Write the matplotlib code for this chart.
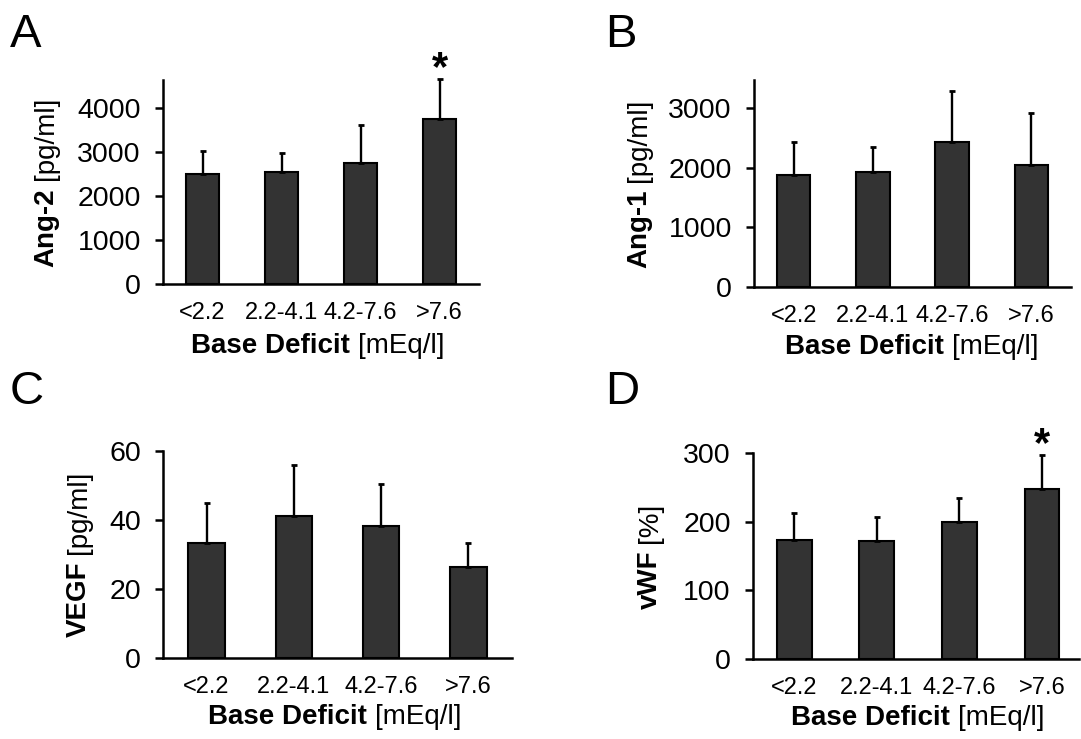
import numpy as np
import matplotlib
matplotlib.use("Agg")
import matplotlib.pyplot as plt

plt.rcParams['font.family'] = ['Liberation Sans', 'DejaVu Sans']

categories = ["<2.2", "2.2-4.1", "4.2-7.6", ">7.6"]

ang2_mean = [2490, 2550, 2760, 3760]
ang2_err = [540, 435, 850, 890]

ang1_mean = [1880, 1930, 2430, 2050]
ang1_err = [550, 420, 860, 870]

vegf_mean = [33.4, 41.3, 38.3, 26.3]
vegf_err = [11.6, 14.7, 12.0, 7.0]

vwf_mean = [173, 172, 199, 247]
vwf_err = [39, 35, 36, 50]

W, H = 1081, 739
fig = plt.figure(figsize=(W / 100, H / 100), dpi=100)


def px_rect(left, right, top, bottom):
    return [left / W, 1 - bottom / H, (right - left) / W, (bottom - top) / H]


def fx(x):
    return x / W


def fy(y):
    return 1 - y / H


renderer = fig.canvas.get_renderer()


def text_width(s, size, weight):
    t = fig.text(0, 0, s, fontsize=size, fontweight=weight)
    w = t.get_window_extent(renderer).width
    t.remove()
    return w


def mixed_label(bold, regular, xc, yc, size, vertical):
    w1 = text_width(bold, size, 'bold')
    w2 = text_width(regular, size, 'normal')
    gap = 0.28 * size * 100 / 72
    total = w1 + gap + w2
    if vertical:
        y0 = yc + total / 2
        fig.text(fx(xc), fy(y0), bold, fontsize=size, fontweight='bold',
                 rotation=90, rotation_mode='anchor', ha='left', va='center')
        fig.text(fx(xc), fy(y0 - w1 - gap), regular, fontsize=size,
                 rotation=90, rotation_mode='anchor', ha='left', va='center')
    else:
        x0 = xc - total / 2
        fig.text(fx(x0), fy(yc), bold, fontsize=size, fontweight='bold',
                 ha='left', va='center')
        fig.text(fx(x0 + w1 + gap), fy(yc), regular, fontsize=size,
                 ha='left', va='center')


def panel(rect, means, errs, ylim, yticks, xlim, star=False):
    ax = fig.add_axes(px_rect(*rect))
    x = np.arange(len(categories))
    ax.bar(x, means, width=0.42, color='#333333', edgecolor='black', linewidth=1.5,
           zorder=2)
    ax.errorbar(x, means, yerr=[np.zeros(len(errs)), errs], fmt='none',
                ecolor='black', elinewidth=1.7, capsize=2.5, capthick=2, zorder=3,
                clip_on=False)
    ax.set_xlim(*xlim)
    ax.set_ylim(*ylim)
    ax.set_yticks(yticks)
    ax.set_xticks(x)
    ax.set_xticklabels(categories)
    for s in ['top', 'right']:
        ax.spines[s].set_visible(False)
    for s in ['left', 'bottom']:
        ax.spines[s].set_linewidth(1.8)
    ax.tick_params(axis='y', length=6, width=1.8, pad=10, labelsize=20.5)
    ax.tick_params(axis='x', length=0, pad=13, labelsize=17)
    if star:
        i = len(means) - 1
        ax.annotate('*', (x[i], means[i] + errs[i]), xytext=(0, -7),
                    textcoords='offset points', ha='center', va='bottom',
                    fontsize=30, fontweight='bold', annotation_clip=False)
    return ax


panel((163, 479, 80, 284), ang2_mean, ang2_err, (0, 4636),
      [0, 1000, 2000, 3000, 4000], (-0.5, 3.5), star=True)
panel((754, 1071, 80, 287), ang1_mean, ang1_err, (0, 3467),
      [0, 1000, 2000, 3000], (-0.5, 3.5))
panel((163, 512, 451, 658), vegf_mean, vegf_err, (0, 60),
      [0, 20, 40, 60], (-0.5, 3.5))
panel((753, 1079, 453, 659), vwf_mean, vwf_err, (0, 300),
      [0, 100, 200, 300], (-0.5, 3.45), star=True)

mixed_label('Ang-2', '[pg/ml]', 46, 182, 20, True)
mixed_label('Ang-1', '[pg/ml]', 639, 183, 20, True)
mixed_label('VEGF', '[pg/ml]', 79, 554, 20, True)
mixed_label('vWF', '[%]', 650, 556, 20, True)

for xc, yc in [(318, 346), (912, 347), (335, 717), (918, 718)]:
    mixed_label('Base Deficit', '[mEq/l]', xc, yc, 20, False)

for letter, xl, yb in [('A', 10, 47), ('B', 605, 47), ('C', 10, 404), ('D', 605, 404)]:
    fig.text(fx(xl), fy(yb), letter, fontsize=34, ha='left', va='baseline')

fig.savefig('out.png', dpi=100)
